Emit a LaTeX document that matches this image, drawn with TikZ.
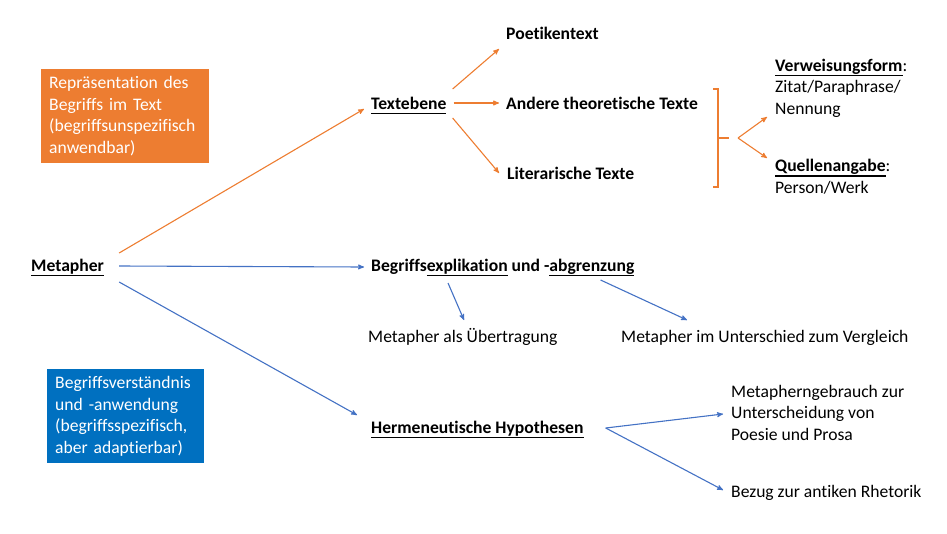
\documentclass[tikz,border=0pt]{standalone}
\usepackage{fontspec}
\setmainfont{Carlito}[Ligatures=NoCommon]
\usetikzlibrary{calc,arrows,positioning}

\definecolor{orng}{RGB}{237,125,49}
\definecolor{blu}{RGB}{68,114,196}
\definecolor{boxblu}{RGB}{0,112,192}

\newcommand{\ulin}[1]{\setbox0\hbox{#1}\rlap{\rule[-5pt]{\wd0}{1.2pt}}\box0\relax}

\begin{document}
\begin{tikzpicture}[x=1pt,y=-1pt,
	every node/.style={font=\fontsize{17.6}{21.5}\selectfont},
	txt/.style={anchor=base west,inner sep=0pt},
	head/.style={txt,font=\fontsize{17.6}{21.5}\selectfont\bfseries},
	multi/.style={txt,align=left},
	legend/.style={rectangle,anchor=north west,inner xsep=8pt,text=white,align=left,minimum height=94pt},
	opaths/.style={->, line width=1.1pt, >=stealth', draw=orng},
	bpaths/.style={->, line width=1.1pt, >=stealth', draw=blu}
	]
\useasboundingbox (0,0) rectangle (947,533);

\node [legend,fill=orng,text width=152pt] (repr) at (41,69) {Repräsentation des\\Begriffs im Text\\(begriffsunspezifisch\\anwendbar)};
\node [legend,fill=boxblu,text width=141pt] (verst) at (47,369) {Begriffsverständnis\\und -anwendung\\(begriffsspezifisch,\\aber adaptierbar)};

\node [head] (metapher) at (31,271) {\ulin{Metapher}};

\node [head] (textebene) at (371,109) {\ulin{Textebene}};
\node [head] (explik) at (371,271) {Begriffs\ulin{explikation} und -\ulin{abgrenzung}};
\node [head] (herm) at (371,433) {\ulin{Hermeneutische Hypothesen}};

\node [head] (poetik) at (506,39) {Poetikentext};
\node [head] (andere) at (506,109) {Andere theoretische Texte};
\node [head] (literar) at (507,179) {Literarische Texte};

\node [multi] (verweis) at (775,114) {\textbf{\ulin{Verweisungsform}}:\\Zitat/Paraphrase/\\Nennung};
\node [multi] (quellen) at (775,193) {\textbf{\ulin{Quellenangabe}}:\\Person/Werk};

\node [txt] (uebertrag) at (368,342) {Metapher als Übertragung};
\node [txt] (vergleich) at (621,342) {Metapher im Unterschied zum Vergleich};

\node [multi] (gebrauch) at (731,440) {Metapherngebrauch zur\\Unterscheidung von\\Poesie und Prosa};
\node [txt] (rhetorik) at (731,497) {Bezug zur antiken Rhetorik};

% bracket
\draw [orng,line width=1.1pt] (713,89) -- (718,89) -- (718,187) -- (713,187) (718,138) -- (729,138);
\coordinate (brk) at (738,138);

\draw [opaths] ($(metapher.base east)+(15,-18)$) to ($(textebene.base west)+(-7,0)$);
\draw [bpaths] ($(metapher.base east)+(15,-5)$) to ($(explik.base west)+(-7,-4)$);
\draw [bpaths] ($(metapher.base east)+(15,11)$) to ($(herm.base west)+(-14,-18)$);

\draw [opaths] ($(textebene.base east)+(6,-20)$) to ($(poetik.base west)+(-7,10)$);
\draw [opaths] ($(textebene.base east)+(7,-6)$) to ($(andere.base west)+(-7,-6)$);
\draw [opaths] ($(textebene.base east)+(6,9)$) to ($(literar.base west)+(-8,-6)$);

\draw [opaths] (brk) to ($(verweis.base west)+(-8,3)$);
\draw [opaths] (brk) to ($(quellen.base west)+(-8,-35)$);

\draw [bpaths] ($(explik.base west)+(77,12)$) to ($(uebertrag.base west)+(96,-22)$);
\draw [bpaths] ($(explik.base east)+(-34,9)$) to ($(vergleich.base west)+(66,-22)$);

\draw [bpaths] ($(herm.base east)+(22,-5)$) to ($(gebrauch.base west)+(-8,-26)$);
\draw [bpaths] ($(herm.base east)+(22,-5)$) to ($(rhetorik.base west)+(-8,-7)$);
\end{tikzpicture}
\end{document}
